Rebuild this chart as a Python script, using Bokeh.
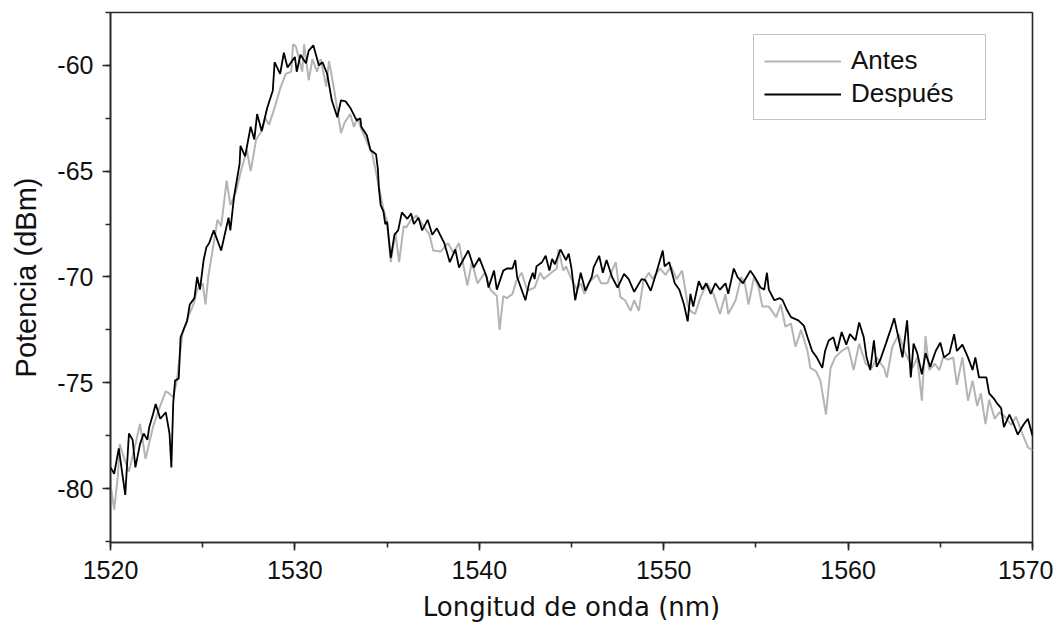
from bokeh.plotting import figure
from bokeh.models import Range1d, SingleIntervalTicker, Legend, LegendItem
from bokeh.embed import file_html
from bokeh.resources import INLINE

# Antes (grey)
antes_wl = [1520.0, 1520.2, 1520.4, 1520.5, 1520.75, 1521.0, 1521.3, 1521.6, 1521.9, 1522.3, 1522.65,
            1523.0, 1523.25, 1523.4, 1523.6, 1523.9, 1524.2, 1524.5, 1524.7, 1525.0, 1525.15, 1525.3,
            1525.8, 1526.0, 1526.3, 1526.5, 1526.8, 1527.1, 1527.4, 1527.6, 1527.9, 1528.2, 1528.4,
            1528.6, 1528.9, 1529.2, 1529.5, 1529.8, 1529.9, 1530.05, 1530.4, 1530.5, 1530.75, 1530.95,
            1531.2, 1531.4, 1531.7, 1531.85, 1532.1, 1532.3, 1532.5, 1532.7, 1533.0, 1533.2, 1533.4,
            1533.6, 1533.9, 1534.2, 1534.5, 1534.8, 1535.0, 1535.2, 1535.45, 1535.65, 1535.9, 1536.05,
            1536.3, 1536.6, 1536.9, 1537.3, 1537.5, 1537.9, 1538.3, 1538.6, 1538.9, 1539.35, 1539.6,
            1539.9, 1540.3, 1540.6, 1540.95, 1541.1, 1541.3, 1541.5, 1541.8, 1542.0, 1542.3, 1542.6,
            1543.0, 1543.3, 1543.5, 1543.9, 1544.2, 1544.3, 1544.55, 1544.7, 1545.0, 1545.3, 1545.5,
            1545.7, 1546.0, 1546.4, 1546.6, 1546.95, 1547.2, 1547.4, 1547.65, 1547.9, 1548.2, 1548.4,
            1548.65, 1548.9, 1549.2, 1549.4, 1549.8, 1550.1, 1550.4, 1550.7, 1551.0, 1551.3, 1551.45,
            1551.7, 1552.0, 1552.35, 1552.7, 1553.05, 1553.35, 1553.5, 1553.9, 1554.2, 1554.4, 1554.6,
            1554.9, 1555.15, 1555.35, 1555.7, 1556.1, 1556.35, 1556.6, 1556.9, 1557.15, 1557.45, 1557.8,
            1557.95, 1558.25, 1558.5, 1558.8, 1559.05, 1559.3, 1559.65, 1560.0, 1560.3, 1560.6, 1560.95,
            1561.3, 1561.55, 1561.95, 1562.1, 1562.4, 1562.75, 1563.05, 1563.5, 1563.75, 1564.0, 1564.2,
            1564.4, 1564.7, 1564.95, 1565.15, 1565.45, 1565.7, 1565.9, 1566.2, 1566.5, 1566.75, 1567.0,
            1567.2, 1567.45, 1567.65, 1567.95, 1568.2, 1568.5, 1568.85, 1569.1, 1569.4, 1569.75, 1570.0]
antes_dbm = [-79.8, -81.0, -79.4, -77.9, -78.6, -79.2, -78.1, -76.95, -78.6, -77.1, -76.2,
             -75.4, -75.55, -75.7, -74.9, -72.7, -71.9, -71.3, -70.6, -70.3, -71.3, -70.0,
             -67.3, -67.6, -65.45, -66.6, -66.0, -64.9, -64.0, -65.0, -63.5, -63.1, -62.5,
             -62.8, -62.0, -61.1, -60.4, -60.3, -59.0, -59.1, -60.3, -59.0, -60.7, -59.7,
             -60.3, -59.7, -61.0, -59.8, -61.0, -62.1, -63.2, -62.7, -62.3, -62.9, -62.5,
             -63.0, -63.6, -64.2, -65.5, -66.8, -67.4, -69.3, -67.9, -69.3, -67.6, -67.65,
             -67.3, -67.1, -67.5, -68.0, -68.75, -68.8, -68.4, -68.85, -68.4, -70.4, -69.3,
             -70.3, -69.8, -70.6, -70.9, -72.5, -70.9, -71.0, -70.8, -70.2, -69.8, -70.65,
             -70.5, -69.8, -70.1, -69.8, -69.6, -68.7, -69.7, -69.5, -70.1, -70.6, -70.3,
             -70.8, -70.2, -69.9, -70.3, -70.3, -69.7, -69.3, -70.95, -71.1, -71.6, -71.1,
             -71.6, -70.2, -69.8, -70.1, -69.6, -69.9, -69.5, -70.1, -69.7, -71.3, -71.6,
             -71.75, -70.95, -70.3, -70.8, -71.75, -70.8, -71.75, -71.1, -70.0, -70.3, -71.3,
             -70.0, -70.5, -71.4, -71.4, -71.9, -71.3, -72.35, -72.2, -73.3, -72.5, -73.5,
             -74.3, -74.45, -74.9, -76.5, -74.3, -73.8, -73.5, -73.3, -74.4, -73.15, -74.1,
             -74.3, -73.8, -74.3, -74.75, -73.3, -72.7, -73.5, -74.3, -73.8, -75.85, -72.8,
             -74.4, -74.1, -74.4, -73.8, -73.9, -73.8, -75.1, -73.8, -75.85, -74.9, -76.1,
             -75.5, -76.95, -75.8, -76.7, -76.4, -76.6, -77.0, -76.6, -77.3, -78.05, -78.2]

# Después (black)
despues_wl = [1520.0, 1520.2, 1520.45, 1520.8, 1521.0, 1521.2, 1521.35, 1521.6, 1521.8, 1522.0, 1522.1,
              1522.3, 1522.45, 1522.7, 1522.9, 1523.0, 1523.2, 1523.3, 1523.4, 1523.5, 1523.7, 1523.8,
              1524.0, 1524.15, 1524.3, 1524.55, 1524.7, 1524.85, 1525.05, 1525.2, 1525.35, 1525.6,
              1526.0, 1526.4, 1526.5, 1526.7, 1527.0, 1527.05, 1527.3, 1527.6, 1527.8, 1527.95, 1528.2,
              1528.5, 1528.8, 1528.9, 1529.2, 1529.4, 1529.6, 1530.0, 1530.1, 1530.3, 1530.6, 1530.75,
              1531.0, 1531.3, 1531.5, 1531.75, 1532.0, 1532.3, 1532.5, 1532.75, 1533.0, 1533.35, 1533.55,
              1533.6, 1533.9, 1534.1, 1534.4, 1534.5, 1534.55, 1534.65, 1534.8, 1534.9, 1535.0, 1535.2,
              1535.4, 1535.6, 1535.8, 1536.1, 1536.3, 1536.45, 1536.7, 1536.9, 1537.2, 1537.45, 1537.7,
              1538.1, 1538.4, 1538.7, 1538.9, 1539.4, 1539.7, 1540.0, 1540.4, 1540.5, 1540.8, 1540.95,
              1541.3, 1541.5, 1541.8, 1541.95, 1542.05, 1542.5, 1542.7, 1542.9, 1543.0, 1543.1, 1543.4,
              1543.6, 1543.8, 1543.95, 1544.1, 1544.4, 1544.7, 1544.85, 1545.0, 1545.2, 1545.5, 1545.75,
              1546.1, 1546.2, 1546.5, 1546.7, 1546.9, 1547.2, 1547.5, 1547.85, 1548.1, 1548.4, 1548.8,
              1549.0, 1549.3, 1549.6, 1549.95, 1550.05, 1550.3, 1550.6, 1550.85, 1551.1, 1551.3, 1551.45,
              1551.6, 1551.9, 1552.1, 1552.3, 1552.55, 1552.8, 1553.05, 1553.35, 1553.5, 1553.8, 1554.0,
              1554.3, 1554.7, 1555.0, 1555.25, 1555.45, 1555.6, 1555.7, 1556.0, 1556.3, 1556.45, 1556.65,
              1556.9, 1557.3, 1557.6, 1557.8, 1558.05, 1558.3, 1558.6, 1558.75, 1558.95, 1559.2, 1559.4,
              1559.65, 1559.9, 1560.1, 1560.4, 1560.6, 1560.85, 1561.0, 1561.2, 1561.4, 1561.55, 1561.75,
              1562.05, 1562.3, 1562.5, 1562.75, 1562.95, 1563.2, 1563.4, 1563.55, 1563.75, 1564.0, 1564.2,
              1564.45, 1564.75, 1565.0, 1565.2, 1565.5, 1565.75, 1565.9, 1566.2, 1566.5, 1566.75, 1566.9,
              1567.1, 1567.5, 1567.65, 1567.95, 1568.1, 1568.3, 1568.45, 1568.75, 1569.0, 1569.2, 1569.5,
              1569.75, 1570.0]
despues_dbm = [-79.0, -79.3, -78.1, -80.3, -77.4, -77.7, -79.0, -77.9, -77.4, -77.7, -77.1,
               -76.5, -76.0, -76.7, -76.5, -76.4, -77.4, -79.0, -76.0, -74.9, -74.8, -72.85,
               -72.4, -72.1, -71.3, -71.0, -70.0, -70.6, -69.2, -68.6, -68.4, -67.8,
               -68.75, -67.2, -67.8, -66.2, -64.65, -63.8, -64.3, -62.9, -63.5, -62.3, -63.1,
               -62.0, -61.2, -59.85, -60.4, -59.4, -60.1, -59.6, -60.3, -59.5, -59.9, -59.3,
               -59.05, -60.0, -59.85, -60.4, -61.65, -62.45, -61.65, -61.7, -62.0, -62.6, -62.5,
               -62.9, -63.3, -64.0, -64.2, -64.9, -65.75, -66.6, -66.9, -67.5, -67.4, -69.1,
               -68.0, -67.8, -66.95, -67.25, -67.0, -67.5, -67.2, -67.8, -67.3, -68.0, -67.7,
               -68.4, -69.3, -68.7, -69.55, -68.75, -69.55, -69.1, -70.0, -70.5, -69.7, -70.6,
               -69.7, -69.6, -69.6, -69.2, -70.0, -71.1, -70.3, -69.8, -70.1, -69.5, -69.3,
               -69.0, -69.7, -69.15, -69.4, -68.7, -69.2, -68.9, -69.6, -71.1, -69.8, -70.65,
               -70.0, -69.55, -69.0, -69.8, -69.2, -70.0, -70.5, -69.85, -70.1, -70.7, -70.1,
               -70.15, -70.65, -69.8, -68.75, -69.5, -69.3, -70.3, -70.6, -71.3, -72.1, -70.8,
               -71.4, -70.2, -70.6, -70.3, -70.8, -70.3, -70.6, -70.3, -70.8, -69.6, -70.0,
               -70.3, -69.7, -70.1, -70.5, -70.6, -69.8, -70.6, -71.1, -71.0, -71.1, -71.5,
               -71.9, -72.05, -72.3, -72.85, -73.5, -73.8, -74.3, -73.5, -73.0, -72.85, -73.5,
               -72.6, -73.2, -72.7, -73.0, -72.15, -72.85, -73.8, -74.4, -73.0, -74.25, -73.9,
               -73.15, -72.5, -71.95, -72.95, -73.8, -72.05, -74.75, -73.15, -73.6, -74.6, -73.6,
               -74.25, -73.5, -73.1, -73.8, -73.6, -72.7, -73.5, -73.2, -73.8, -74.4, -73.8,
               -74.75, -74.75, -75.5, -75.8, -76.0, -76.2, -77.1, -76.5, -77.0, -77.45, -77.0,
               -76.7, -77.5]

x_label = "Longitud de onda (nm)"
y_label = "Potencia (dBm)"
series_names = ["Antes", "Después"]
y_tick_values = [-80, -75, -70, -65, -60]
y_tick_labels = ["-80", "-75", "-70", "-65", "-60"]

p = figure(frame_width=922, frame_height=530, output_backend="svg", toolbar_location=None,
           x_range=Range1d(1520, 1570), y_range=Range1d(-82.55, -57.5),
           min_border_left=110, min_border_right=21, min_border_top=12, min_border_bottom=80)
p.xgrid.visible = False
p.ygrid.visible = False
p.outline_line_color = "#2a2a2a"
p.outline_line_width = 1.6
p.background_fill_color = "white"
p.border_fill_color = "white"

r_antes = p.line(antes_wl, antes_dbm, line_color="#b4b4b4", line_width=2)
r_desp = p.line(despues_wl, despues_dbm, line_color="#000000", line_width=1.8)

p.xaxis.ticker = SingleIntervalTicker(interval=10, num_minor_ticks=2)
p.yaxis.ticker = SingleIntervalTicker(interval=5, num_minor_ticks=2)
p.yaxis.major_label_overrides = {v: t for v, t in zip(y_tick_values, y_tick_labels)}
for ax in (p.xaxis[0], p.yaxis[0]):
    ax.axis_line_color = "#2a2a2a"
    ax.axis_line_width = 1.6
    ax.major_tick_line_color = "#2a2a2a"
    ax.minor_tick_line_color = "#2a2a2a"
    ax.major_tick_line_width = 1.6
    ax.minor_tick_line_width = 1.6
    ax.major_tick_in = 0
    ax.minor_tick_in = 0
    ax.major_tick_out = 8
    ax.minor_tick_out = 5
    ax.major_label_text_font = "Liberation Sans"
    ax.major_label_text_font_size = "25px"
    ax.major_label_text_color = "#111111"
    ax.axis_label_text_font_style = "normal"
    ax.axis_label_text_color = "#111111"

p.xaxis.axis_label = x_label
p.xaxis.axis_label_text_font = "DejaVu Sans"
p.xaxis.axis_label_text_font_size = "26px"
p.xaxis.major_label_standoff = 10
p.xaxis.axis_label_standoff = 10

p.yaxis.axis_label = y_label
p.yaxis.axis_label_text_font = "Liberation Sans"
p.yaxis.axis_label_text_font_size = "29px"
p.yaxis.major_label_standoff = 9
p.yaxis.axis_label_standoff = 12

legend = Legend(items=[LegendItem(label=series_names[0], renderers=[r_antes]),
                       LegendItem(label=series_names[1], renderers=[r_desp])],
                location=(643, 422), orientation="vertical")
legend.label_text_font = "Liberation Sans"
legend.label_text_font_size = "26px"
legend.label_text_color = "#111111"
legend.padding = 10
legend.spacing = 2
legend.glyph_width = 77
legend.glyph_height = 28
legend.label_height = 28
legend.label_width = 124
legend.label_standoff = 10
legend.border_line_color = "#888888"
legend.border_line_width = 1.2
legend.margin = 0
legend.background_fill_alpha = 1
p.add_layout(legend, "center")

open("out.html", "w").write(file_html(p, INLINE))
